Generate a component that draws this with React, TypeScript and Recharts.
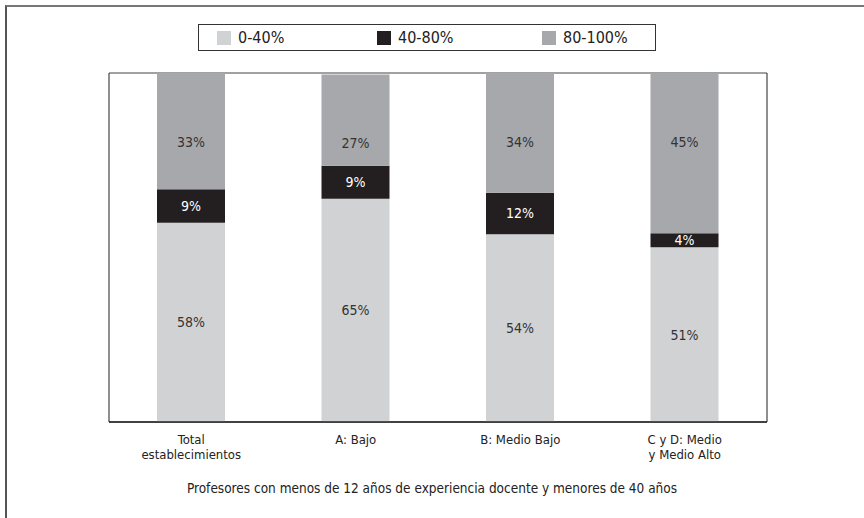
import React from "react";
import {
  BarChart,
  Bar,
  XAxis,
  YAxis,
  CartesianGrid,
  LabelList,
} from "recharts";

if (typeof document !== "undefined") {
  document.body.style.margin = "0";
}

const categories = [
  "Total\nestablecimientos",
  "A: Bajo",
  "B: Medio Bajo",
  "C y D: Medio\ny Medio Alto",
];
const low = [57.1, 64.0, 53.8, 50.1];
const mid = [9.6, 9.4, 11.9, 4.0];
const high = [33.3, 26.2, 34.3, 45.9];
const lowLabels = ["58%", "65%", "54%", "51%"];
const midLabels = ["9%", "9%", "12%", "4%"];
const highLabels = ["33%", "27%", "34%", "45%"];
const seriesNames = ["0-40%", "40-80%", "80-100%"];
const seriesColors = ["#d1d2d4", "#231f20", "#a7a8ab"];
const gridTicks = [0, 20, 40, 60, 80, 100];
const title =
  "Profesores con menos de 12 años de experiencia docente y menores de 40 años";

const data = categories.map((c, i) => ({
  name: c,
  low: low[i],
  mid: mid[i],
  high: high[i],
  lowL: lowLabels[i],
  midL: midLabels[i],
  highL: highLabels[i],
}));

const FONT = "'DejaVu Sans Condensed', 'Liberation Sans', Arial, sans-serif";

const CatTick = (props: any) => {
  const { x, y, payload } = props;
  const lines = String(payload.value).split("\n");
  return (
    <text x={x} y={y} textAnchor="middle" fontSize={13} fill="#222" fontFamily={FONT}>
      {lines.map((l, i) => (
        <tspan key={i} x={x} dy={i === 0 ? 14 : 15}>
          {l}
        </tspan>
      ))}
    </text>
  );
};

export default function App() {
  return (
    <div
      style={{
        position: "relative",
        width: 864,
        height: 518,
        background: "#fff",
        fontFamily: FONT,
        overflow: "hidden",
      }}
    >
      <div
        style={{
          position: "absolute",
          left: 5,
          top: 5,
          width: 880,
          height: 540,
          borderTop: "2px solid #777",
          borderLeft: "2px solid #555",
          boxSizing: "border-box",
        }}
      />
      <div
        style={{
          position: "absolute",
          left: 198,
          top: 24,
          width: 458,
          height: 27,
          border: "1px solid #333",
          boxSizing: "border-box",
          background: "#fff",
        }}
      >
        {seriesNames.map((n, i) => (
          <div
            key={n}
            style={{
              position: "absolute",
              left: [18, 178, 343][i],
              top: 5,
              display: "flex",
              alignItems: "center",
              fontSize: 16,
              color: "#222",
              lineHeight: "16px",
            }}
          >
            <span
              style={{
                display: "inline-block",
                width: 14,
                height: 14,
                background: seriesColors[i],
                marginRight: 7,
              }}
            />
            {n}
          </div>
        ))}
      </div>
      <div style={{ position: "absolute", left: 0, top: 0 }}>
        <BarChart
          width={864}
          height={518}
          data={data}
          margin={{ top: 73, left: 109, right: 97, bottom: 46 }}
          barSize={68}
        >
          <CartesianGrid
            yAxisId="l"
            horizontal={true}
            vertical={true}
            verticalPoints={[109, 767]}
            stroke="#444"
            strokeWidth={1.2}
          />
          <XAxis
            dataKey="name"
            axisLine={{ stroke: "#222", strokeWidth: 1.4 }}
            tickLine={false}
            height={50}
            interval={0}
            tick={<CatTick />}
          />
          <YAxis
            yAxisId="l"
            type="number"
            domain={[0, 100]}
            ticks={gridTicks}
            tick={false}
            tickLine={false}
            width={0}
            axisLine={false}
          />
          <Bar
            yAxisId="l"
            dataKey="low"
            stackId="a"
            name={seriesNames[0]}
            fill={seriesColors[0]}
            isAnimationActive={false}
          >
            <LabelList
              dataKey="lowL"
              position="center"
              fill="#333"
              stroke="none"
              fontWeight={400}
              fontSize={14}
              fontFamily={FONT}
            />
          </Bar>
          <Bar
            yAxisId="l"
            dataKey="mid"
            stackId="a"
            name={seriesNames[1]}
            fill={seriesColors[1]}
            isAnimationActive={false}
          >
            <LabelList
              dataKey="midL"
              position="center"
              fill="#fff"
              stroke="none"
              fontWeight={400}
              fontSize={14}
              fontFamily={FONT}
            />
          </Bar>
          <Bar
            yAxisId="l"
            dataKey="high"
            stackId="a"
            name={seriesNames[2]}
            fill={seriesColors[2]}
            isAnimationActive={false}
          >
            <LabelList
              dataKey="highL"
              position="insideTop"
              offset={64}
              fill="#333"
              stroke="none"
              fontWeight={400}
              fontSize={14}
              fontFamily={FONT}
            />
          </Bar>
        </BarChart>
      </div>
      <div
        style={{
          position: "absolute",
          left: 0,
          width: 864,
          top: 480,
          textAlign: "center",
          fontSize: 13.5,
          color: "#222",
        }}
      >
        {title}
      </div>
    </div>
  );
}
